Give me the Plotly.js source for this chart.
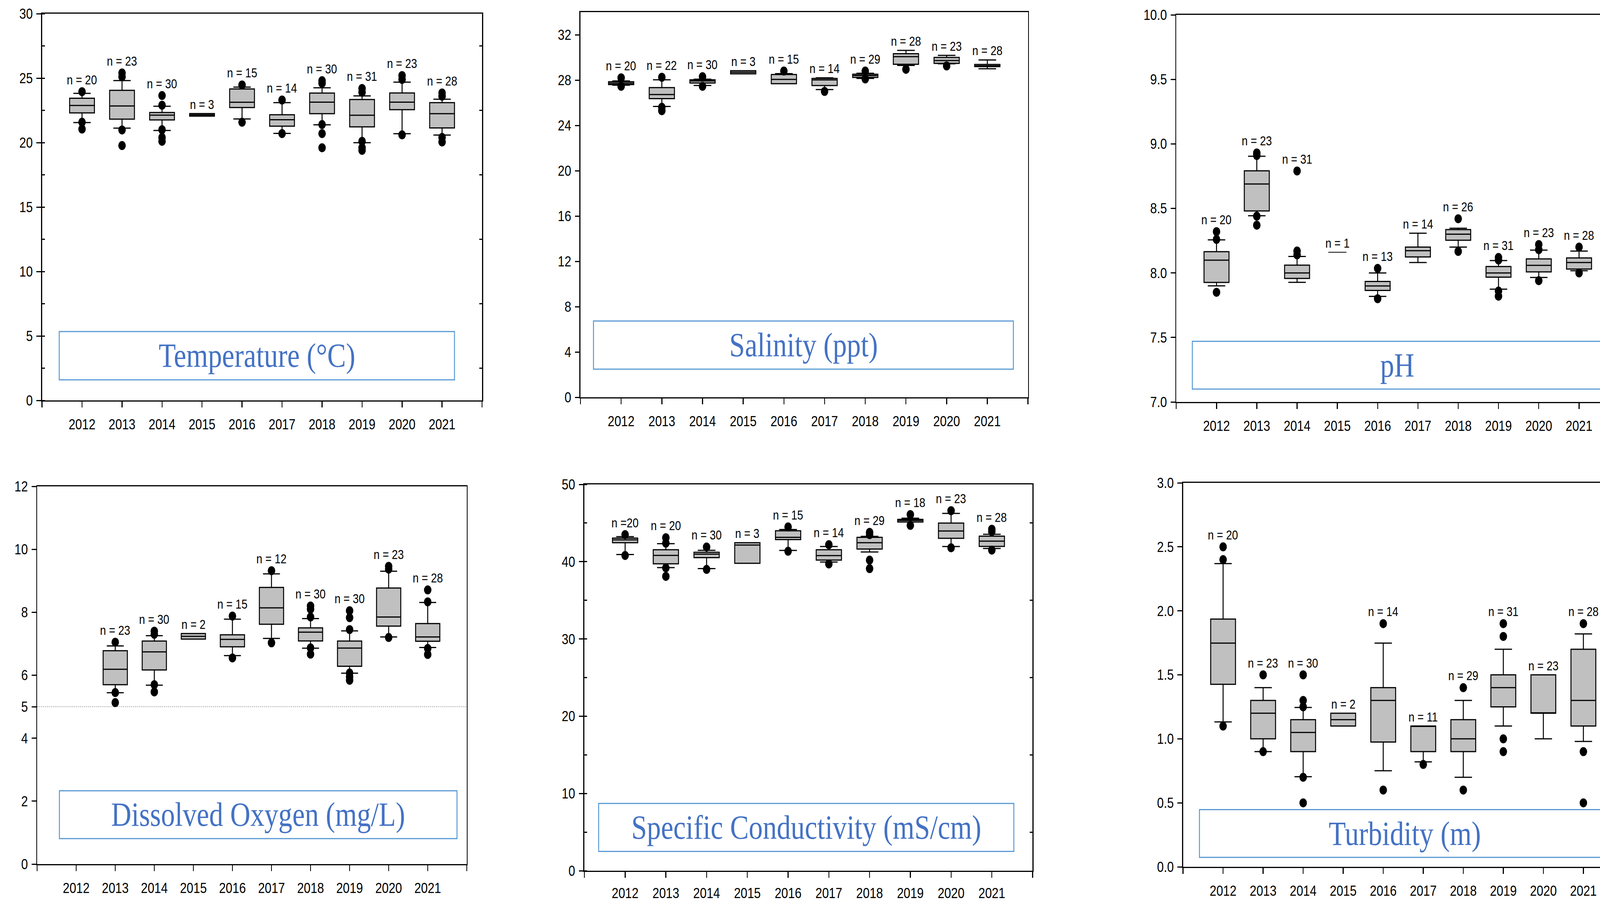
<!DOCTYPE html>
<html>
<head>
<meta charset="utf-8">
<script src="https://cdn.plot.ly/plotly-3.0.1.min.js"></script>
<style>html,body{margin:0;padding:0;background:#fff;overflow:hidden;}
#chart{width:4912px;height:2309px;transform-origin:0 0;}</style>
</head>
<body>
<div id="chart"></div>
<script>
// ---------------- DATA ----------------
const years = [2012, 2013, 2014, 2015, 2016, 2017, 2018, 2019, 2020, 2021];
const axisTickYears = [2011, 2012, 2013, 2014, 2015, 2016, 2017, 2018, 2019, 2020, 2021, 2022];
const axisTickText = ['', '2012', '2013', '2014', '2015', '2016', '2017', '2018', '2019', '2020', '2021', ''];

// Temperature (°C)
const tempLo  = [21.55, 21.12, 20.94, 22.05, 21.83, 20.71, 21.38, 19.99, 20.69, 20.58];
const tempQ1  = [22.30, 21.82, 21.76, 22.05, 22.72, 21.27, 22.24, 21.22, 22.55, 21.14];
const tempMed = [22.88, 22.84, 22.13, 22.15, 23.13, 21.77, 23.14, 22.12, 23.14, 22.24];
const tempQ3  = [23.44, 24.05, 22.33, 22.25, 24.16, 22.16, 23.84, 23.34, 23.85, 23.10];
const tempHi  = [23.82, 24.81, 22.82, 22.25, 24.30, 23.10, 24.25, 23.62, 24.69, 23.36];
const tempOut = [[23.95, 21.58, 21.05], [25.4, 25.1, 20.98, 19.77], [23.65, 22.9, 21.0, 20.4, 20.1], [],
                 [24.47, 21.58], [23.3, 20.7], [24.8, 24.6, 21.4, 20.7, 19.6], [24.2, 23.9, 20.1, 19.6, 19.4],
                 [25.2, 24.9, 20.6], [23.85, 23.6, 20.4, 20.05]];
const tempN   = ['n = 20', 'n = 23', 'n = 30', 'n = 3', 'n = 15', 'n = 14', 'n = 30', 'n = 31', 'n = 23', 'n = 28'];

// Salinity (ppt)
const salLo  = [27.55, 25.67, 27.53, 28.55, 27.68, 27.16, 28.15, 29.29, 29.44, 29.00];
const salQ1  = [27.60, 26.36, 27.74, 28.55, 27.68, 27.52, 28.23, 29.40, 29.47, 29.19];
const salMed = [27.72, 26.72, 27.92, 28.69, 28.06, 28.02, 28.40, 30.07, 29.72, 29.26];
const salQ3  = [27.85, 27.34, 28.03, 28.83, 28.49, 28.15, 28.52, 30.33, 30.00, 29.38];
const salHi  = [27.92, 28.03, 28.08, 28.83, 28.57, 28.20, 28.60, 30.62, 30.18, 29.78];
const salOut = [[28.2, 27.45], [28.25, 25.6, 25.3], [28.3, 27.45], [], [28.8], [27.0], [28.8, 28.1], [28.95], [29.25], []];
const salN   = ['n = 20', 'n = 22', 'n = 30', 'n = 3', 'n = 15', 'n = 14', 'n = 29', 'n = 28', 'n = 23', 'n = 28'];

// pH
const phLo  = [7.900, 8.443, 7.927, 8.16, 7.818, 8.081, 8.200, 7.874, 7.965, 8.017];
const phQ1  = [7.926, 8.480, 7.957, 8.16, 7.864, 8.124, 8.253, 7.967, 8.008, 8.030];
const phMed = [8.099, 8.689, 8.000, 8.16, 7.899, 8.172, 8.300, 8.000, 8.059, 8.081];
const phQ3  = [8.165, 8.791, 8.060, 8.16, 7.934, 8.200, 8.336, 8.050, 8.109, 8.116];
const phHi  = [8.256, 8.904, 8.128, 8.16, 8.000, 8.308, 8.346, 8.096, 8.177, 8.169];
const phOut = [[8.32, 8.26, 7.85], [8.93, 8.91, 8.44, 8.37], [8.79, 8.17, 8.14], [], [8.035, 7.80], [],
               [8.42, 8.167], [8.12, 8.10, 7.86, 7.82], [8.22, 8.18, 7.94], [8.20, 8.00]];
const phN   = ['n = 20', 'n = 23', 'n = 31', 'n = 1', 'n = 13', 'n = 14', 'n = 26', 'n = 31', 'n = 23', 'n = 28'];

// Dissolved Oxygen (mg/L)  (no 2012 data)
const doLo  = [null, 5.444, 5.684, 7.148, 6.623, 7.17, 6.860, 6.064, 7.215, 6.88];
const doQ1  = [null, 5.700, 6.168, 7.148, 6.904, 7.62, 7.090, 6.284, 7.560, 7.08];
const doMed = [null, 6.190, 6.740, 7.235, 7.140, 8.14, 7.367, 6.863, 7.850, 7.215];
const doQ3  = [null, 6.780, 7.086, 7.326, 7.285, 8.79, 7.504, 7.086, 8.770, 7.64];
const doHi  = [null, 6.930, 7.256, 7.326, 7.780, 9.22, 7.800, 7.410, 9.305, 8.31];
const doOut = [[], [7.05, 5.45, 5.13], [7.4, 7.3, 5.7, 5.47], [], [7.88, 6.55], [9.32, 7.03],
               [8.2, 8.1, 7.85, 6.87, 6.67], [8.05, 7.83, 7.45, 6.07, 5.95, 5.84], [9.46, 9.37, 7.2], [8.71, 8.33, 6.85, 6.66]];
const doN   = [null, 'n = 23', 'n = 30', 'n = 2', 'n = 15', 'n = 12', 'n = 30', 'n = 30', 'n = 23', 'n = 28'];

// Specific Conductivity (mS/cm)
const scLo  = [40.92, 39.23, 39.10, 39.79, 41.45, 39.95, 41.26, 45.14, 41.96, 41.71];
const scQ1  = [42.45, 39.72, 40.52, 39.79, 42.86, 40.21, 41.63, 45.14, 43.02, 41.97];
const scMed = [42.82, 40.81, 40.98, 42.15, 43.15, 40.78, 42.45, 45.34, 43.97, 42.66];
const scQ3  = [43.05, 41.55, 41.22, 42.45, 44.00, 41.55, 43.15, 45.47, 45.00, 43.30];
const scHi  = [43.24, 42.33, 41.47, 42.45, 44.16, 41.96, 43.27, 45.63, 46.25, 43.54];
const scOut = [[43.5, 40.8], [43.1, 42.4, 39.2, 38.1], [41.9, 39.0], [], [44.5, 41.35], [42.2, 39.7],
               [43.8, 43.5, 40.2, 39.1], [46.1, 44.7], [46.6, 41.8], [44.2, 43.9, 41.5]];
const scN   = ['n =20', 'n = 20', 'n = 30', 'n = 3', 'n = 15', 'n = 14', 'n = 29', 'n = 18', 'n = 23', 'n = 28'];

// Turbidity (m)
const tuLo  = [1.132, 0.90, 0.704, 1.10, 0.751, 0.82, 0.70, 1.10, 1.00, 0.98];
const tuQ1  = [1.426, 1.00, 0.900, 1.10, 0.975, 0.90, 0.90, 1.25, 1.20, 1.10];
const tuMed = [1.748, 1.20, 1.050, 1.15, 1.300, 1.10, 1.00, 1.40, 1.20, 1.30];
const tuQ3  = [1.936, 1.30, 1.150, 1.20, 1.400, 1.10, 1.15, 1.50, 1.50, 1.70];
const tuHi  = [2.369, 1.40, 1.245, 1.20, 1.748, 1.10, 1.30, 1.70, 1.50, 1.82];
const tuOut = [[2.5, 2.4, 1.1], [1.5, 0.9], [1.5, 1.3, 1.25, 0.7, 0.5], [], [1.9, 0.6], [0.8], [1.4, 0.6],
               [1.9, 1.8, 1.0, 0.9], [], [1.9, 0.9, 0.5]];
const tuN   = ['n = 20', 'n = 23', 'n = 30', 'n = 2', 'n = 14', 'n = 11', 'n = 29', 'n = 31', 'n = 23', 'n = 28'];

// ---------------- LAYOUT CONFIG ----------------
const W = 4912, H = 2309;   // reference frame size
const panels = [
  {title: 'Temperature (°C)', lo: tempLo, q1: tempQ1, med: tempMed, q3: tempQ3, hi: tempHi, out: tempOut, n: tempN,
   px: [129, 1480, 35, 1025], yr: [0, 30], xr: [2011, 2022], dtick: 5, minor: 2.5, fmt: '', mirrorY: true,
   tbox: [2011.43, 2021.31, 1.6, 5.34], xStand: 12},
  {title: 'Salinity (ppt)', lo: salLo, q1: salQ1, med: salMed, q3: salQ3, hi: salHi, out: salOut, n: salN,
   px: [1782, 3156, 31, 1017], yr: [0, 34], xr: [2011, 2022], dtick: 4, minor: 0, fmt: '', mirrorY: true,
   tbox: [2011.32, 2021.64, 2.48, 6.73], xStand: 12},
  {title: 'pH', lo: phLo, q1: phQ1, med: phMed, q3: phQ3, hi: phHi, out: phOut, n: phN,
   px: [3611, 4912, 38, 1029], yr: [7, 10], xr: [2011, 2021.52], dtick: 0.5, minor: 0, fmt: '.1f', mirrorY: false,
   tbox: [2011.40, 2021.58, 7.1, 7.47], xStand: 12},
  {title: 'Dissolved Oxygen (mg/L)', lo: doLo, q1: doQ1, med: doMed, q3: doQ3, hi: doHi, out: doOut, n: doN,
   px: [114, 1433, 1245, 2212], yr: [0, 12], xr: [2011, 2022], tickvals: [0, 2, 4, 5, 6, 8, 10, 12], minor: 0, fmt: '', mirrorY: true,
   tbox: [2011.57, 2021.75, 0.81, 2.33], refLine: 5, xStand: 12},
  {title: 'Specific Conductivity (mS/cm)', lo: scLo, q1: scQ1, med: scMed, q3: scQ3, hi: scHi, out: scOut, n: scN,
   px: [1794, 3170, 1240, 2229], yr: [0, 50], xr: [2011, 2022], dtick: 10, minor: 5, fmt: '', mirrorY: true,
   tbox: [2011.35, 2021.54, 2.5, 8.71], xStand: 8},
  {title: 'Turbidity (m)', lo: tuLo, q1: tuQ1, med: tuMed, q3: tuQ3, hi: tuHi, out: tuOut, n: tuN,
   px: [3632, 4912, 1236, 2219], yr: [0, 3], xr: [2011, 2021.415], dtick: 0.5, minor: 0, fmt: '.1f', mirrorY: false,
   tbox: [2011.41, 2021.67, 0.074, 0.447], xStand: 12}
];

const SANS = 'Liberation Sans, Arial, sans-serif';
const SERIF = 'Liberation Serif, Times New Roman, serif';
const traces = [];
const annotations = [];
const shapes = [];
const layout = {
  width: W, height: H, margin: {l: 0, r: 0, t: 0, b: 0}, autosize: false,
  paper_bgcolor: '#ffffff', plot_bgcolor: '#ffffff', showlegend: false,
  font: {family: SANS, color: '#000'}
};
let extraAxis = 7;

function boxTrace(p, idx, xa, ya, width, lineW) {
  return {
    type: 'box', xaxis: xa, yaxis: ya,
    x: idx.map(j => years[j]),
    q1: idx.map(j => p.q1[j]), median: idx.map(j => p.med[j]), q3: idx.map(j => p.q3[j]),
    lowerfence: idx.map(j => p.lo[j]), upperfence: idx.map(j => p.hi[j]),
    width: width, whiskerwidth: 0.7, boxpoints: false,
    fillcolor: '#c0c0c0', line: {color: '#000', width: lineW},
    hoverinfo: 'skip', showlegend: false
  };
}

panels.forEach((p, i) => {
  const n = i + 1;
  const xa = n === 1 ? 'x' : 'x' + n;
  const ya = n === 1 ? 'y' : 'y' + n;
  const xKey = n === 1 ? 'xaxis' : 'xaxis' + n;
  const yKey = n === 1 ? 'yaxis' : 'yaxis' + n;
  const xd = [p.px[0] / W, Math.min(1, p.px[1] / W)];
  const yd = [1 - p.px[3] / H, 1 - p.px[2] / H];

  layout[xKey] = {
    domain: xd, range: p.xr, anchor: ya,
    tickmode: 'array', tickvals: axisTickYears, ticktext: axisTickText,
    ticks: 'outside', ticklen: 15, tickwidth: 3, tickcolor: '#000',
    showline: true, linewidth: 3, linecolor: '#000', mirror: true,
    showgrid: false, zeroline: false, tickfont: {family: SANS, size: 37, color: '#000'},
    ticklabelstandoff: p.xStand
  };
  const yax = {
    domain: yd, range: p.yr, anchor: xa,
    ticks: 'outside', ticklen: 14, tickwidth: 3, tickcolor: '#000',
    showline: true, linewidth: 3, linecolor: '#000', mirror: p.mirrorY,
    showgrid: false, zeroline: false, tickfont: {family: SANS, size: 37, color: '#000'},
    tickformat: p.fmt, ticklabelstandoff: 4
  };
  if (p.tickvals) { yax.tickmode = 'array'; yax.tickvals = p.tickvals; }
  else { yax.tickmode = 'linear'; yax.tick0 = 0; yax.dtick = p.dtick; }
  if (p.minor) {
    yax.minor = {ticks: 'inside', ticklen: 9, tickwidth: 3, tickcolor: '#000', dtick: p.minor, tick0: 0, showgrid: false};
    // right-side inside minor ticks via an overlaying axis
    const ek = 'yaxis' + extraAxis;
    layout[ek] = {
      overlaying: ya, side: 'right', anchor: xa, range: p.yr, tickmode: 'linear', tick0: 0, dtick: p.dtick,
      ticks: '', showticklabels: false, showline: false, showgrid: false, zeroline: false,
      minor: {ticks: 'inside', ticklen: 9, tickwidth: 3, tickcolor: '#000', dtick: p.minor, tick0: 0, showgrid: false}
    };
    traces.push({type: 'scatter', x: [], y: [], xaxis: xa, yaxis: 'y' + extraAxis, hoverinfo: 'skip', showlegend: false});
    extraAxis++;
  }
  layout[yKey] = yax;

  // reference line
  if (p.refLine !== undefined) {
    shapes.push({type: 'line', xref: xa + ' domain', yref: ya, x0: 0, x1: 1, y0: p.refLine, y1: p.refLine,
      line: {color: '#a0a0a0', width: 2, dash: 'dot'}, layer: 'below'});
  }

  // boxes (single-value years drawn as a thin line)
  const valid = years.map((_, j) => j).filter(j => p.q1[j] !== null);
  const flat = valid.filter(j => p.lo[j] === p.hi[j] && p.q1[j] === p.q3[j]);
  const normal = valid.filter(j => flat.indexOf(j) < 0);
  traces.push(boxTrace(p, normal, xa, ya, 0.62, 3));
  if (flat.length) traces.push(boxTrace(p, flat, xa, ya, 0.45, 2));

  // outliers
  const ox = [], oy = [];
  p.out.forEach((arr, j) => arr.forEach(v => { ox.push(years[j]); oy.push(v); }));
  traces.push({
    type: 'scatter', mode: 'markers', xaxis: xa, yaxis: ya, x: ox, y: oy,
    marker: {color: '#000', size: 23, line: {width: 0}}, hoverinfo: 'skip', showlegend: false
  });

  // n labels
  years.forEach((yr, j) => {
    if (p.n[j] === null) return;
    const outMax = p.out[j].length ? Math.max(...p.out[j]) : -Infinity;
    const top = Math.max(p.hi[j], outMax);
    const fromDot = outMax >= p.hi[j];
    annotations.push({
      xref: xa, yref: ya, x: yr, y: top, text: p.n[j], showarrow: false,
      yanchor: 'bottom', xanchor: 'center', yshift: fromDot ? 10 : 3,
      font: {family: SANS, size: 33, color: '#000'}
    });
  });

  // title box
  const b = p.tbox;
  shapes.push({type: 'rect', xref: xa, yref: ya, x0: b[0], x1: b[1], y0: b[2], y1: b[3],
    line: {color: '#5b9bd5', width: 3}, fillcolor: 'rgba(0,0,0,0)', layer: 'above'});
  annotations.push({
    xref: xa, yref: ya, x: (b[0] + b[1]) / 2, y: (b[2] + b[3]) / 2, text: p.title, showarrow: false,
    xanchor: 'center', yanchor: 'middle', font: {family: SERIF, size: 86, color: '#4472c4'}
  });
});

layout.annotations = annotations;
layout.shapes = shapes;

// The browser viewport may be narrower than the 4912-px frame: draw at full frame size
// and fit the finished figure into the viewport.
const el = document.getElementById('chart');
const vw = window.innerWidth || W;
const vh = window.innerHeight || H;
el.style.transform = 'scale(' + (vw / W) + ',' + (vh / H) + ')';
Plotly.newPlot(el, traces, layout, {staticPlot: true, displayModeBar: false});
</script>
</body>
</html>
